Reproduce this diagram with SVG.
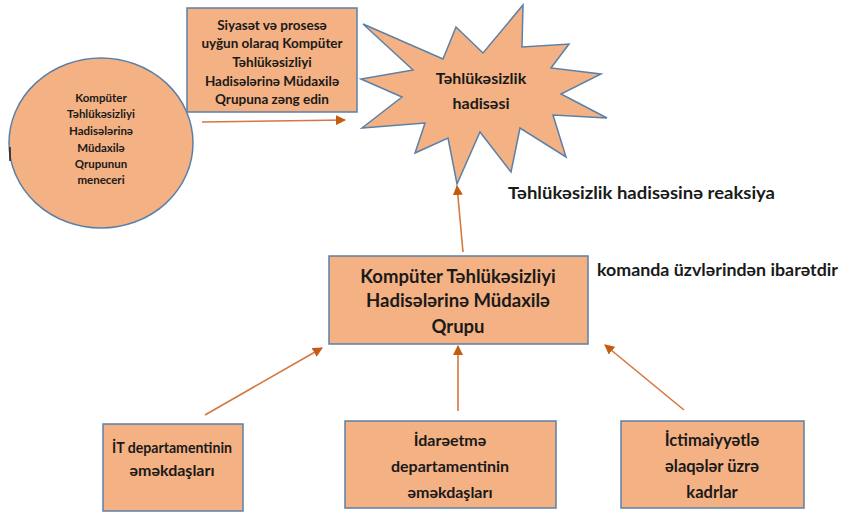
<svg xmlns="http://www.w3.org/2000/svg" width="853" height="514" viewBox="0 0 853 514">
  <style>
    .shape { fill: #F4B183; stroke: #5B80A8; stroke-width: 1.5; }
    .t { font-family: Lato, "Liberation Sans", sans-serif; font-weight: bold; fill: #1a1a1a; text-anchor: middle; }
    .lbl { font-family: Lato, "Liberation Sans", sans-serif; font-weight: bold; fill: #1a1a1a; font-size: 17.5px; }
    .conn { stroke: #D5773E; stroke-width: 1.6; fill: none; marker-end: url(#head); }
  </style>
  <defs>
    <marker id="head" markerWidth="10" markerHeight="10" refX="9" refY="5" orient="auto" markerUnits="userSpaceOnUse">
      <path d="M0,0 L10,5 L0,10 Z" fill="#C55A11"/>
    </marker>
  </defs>

  <rect width="853" height="514" fill="#ffffff"/>

  <!-- manager circle -->
  <g id="manager">
    <ellipse class="shape" cx="101" cy="143" rx="92" ry="85"/>
    <line x1="10" y1="147" x2="10" y2="161" stroke="#222" stroke-width="1.5"/>
    <g class="t" font-size="11.5">
      <text x="101" y="102">Kompüter</text>
      <text x="101" y="118">Təhlükəsizliyi</text>
      <text x="101" y="135">Hadisələrinə</text>
      <text x="101" y="152">Müdaxilə</text>
      <text x="101" y="168">Qrupunun</text>
      <text x="101" y="184">meneceri</text>
    </g>
  </g>

  <!-- policy note -->
  <g id="policy">
    <rect class="shape" x="187" y="8" width="170" height="104"/>
    <g class="t" font-size="13.5">
      <text x="272" y="30">Siyasət və prosesə</text>
      <text x="272" y="48">uyğun olaraq Kompüter</text>
      <text x="272" y="67">Təhlükəsizliyi</text>
      <text x="272" y="86">Hadisələrinə Müdaxilə</text>
      <text x="272" y="104">Qrupuna zəng edin</text>
    </g>
  </g>

  <!-- incident burst -->
  <g id="incident">
    <polygon class="shape" points="363,24 443,59 456,27 483,53 523,5 522,47 569,44 551,68 601,74 561,94 607,118 553,115 566,157 520,128 511,172 480,132 457,184 448,138 415,153 425,123 362,128 402,97 361,79 413,70"/>
    <g class="t" font-size="16">
      <text x="481" y="84">Təhlükəsizlik</text>
      <text x="481" y="109">hadisəsi</text>
    </g>
  </g>

  <!-- response team -->
  <g id="team">
    <rect class="shape" x="329" y="256" width="259" height="88"/>
    <g class="t" font-size="18.5">
      <text x="458" y="283">Kompüter Təhlükəsizliyi</text>
      <text x="458" y="307">Hadisələrinə Müdaxilə</text>
      <text x="458" y="333">Qrupu</text>
    </g>
  </g>

  <!-- member groups -->
  <g id="it-staff">
    <rect class="shape" x="103" y="424" width="140" height="87"/>
    <g class="t" font-size="16">
      <text x="172" y="453" textLength="120" lengthAdjust="spacingAndGlyphs">İT departamentinin</text>
      <text x="172" y="476">əməkdaşları</text>
    </g>
  </g>
  <g id="management-staff">
    <rect class="shape" x="345" y="421" width="211" height="87"/>
    <g class="t" font-size="16">
      <text x="450" y="446">İdarəetmə</text>
      <text x="450" y="472">departamentinin</text>
      <text x="450" y="498">əməkdaşları</text>
    </g>
  </g>
  <g id="pr-staff">
    <rect class="shape" x="621" y="421" width="183" height="87"/>
    <g class="t" font-size="16.5">
      <text x="712" y="446">İctimaiyyətlə</text>
      <text x="712" y="472">əlaqələr üzrə</text>
      <text x="712" y="498">kadrlar</text>
    </g>
  </g>

  <!-- free labels -->
  <g id="labels">
    <text class="lbl" x="508" y="199" textLength="267" lengthAdjust="spacingAndGlyphs">Təhlükəsizlik hadisəsinə reaksiya</text>
    <text class="lbl" x="597" y="276" textLength="241" lengthAdjust="spacingAndGlyphs">komanda üzvlərindən ibarətdir</text>
  </g>

  <!-- connectors -->
  <g id="connectors">
    <line class="conn" x1="202" y1="122" x2="345" y2="120"/>
    <line class="conn" x1="463" y1="252" x2="457" y2="186"/>
    <line class="conn" x1="205" y1="415" x2="322" y2="348"/>
    <line class="conn" x1="458" y1="411" x2="458" y2="346"/>
    <line class="conn" x1="684" y1="410" x2="605" y2="345"/>
  </g>
</svg>
